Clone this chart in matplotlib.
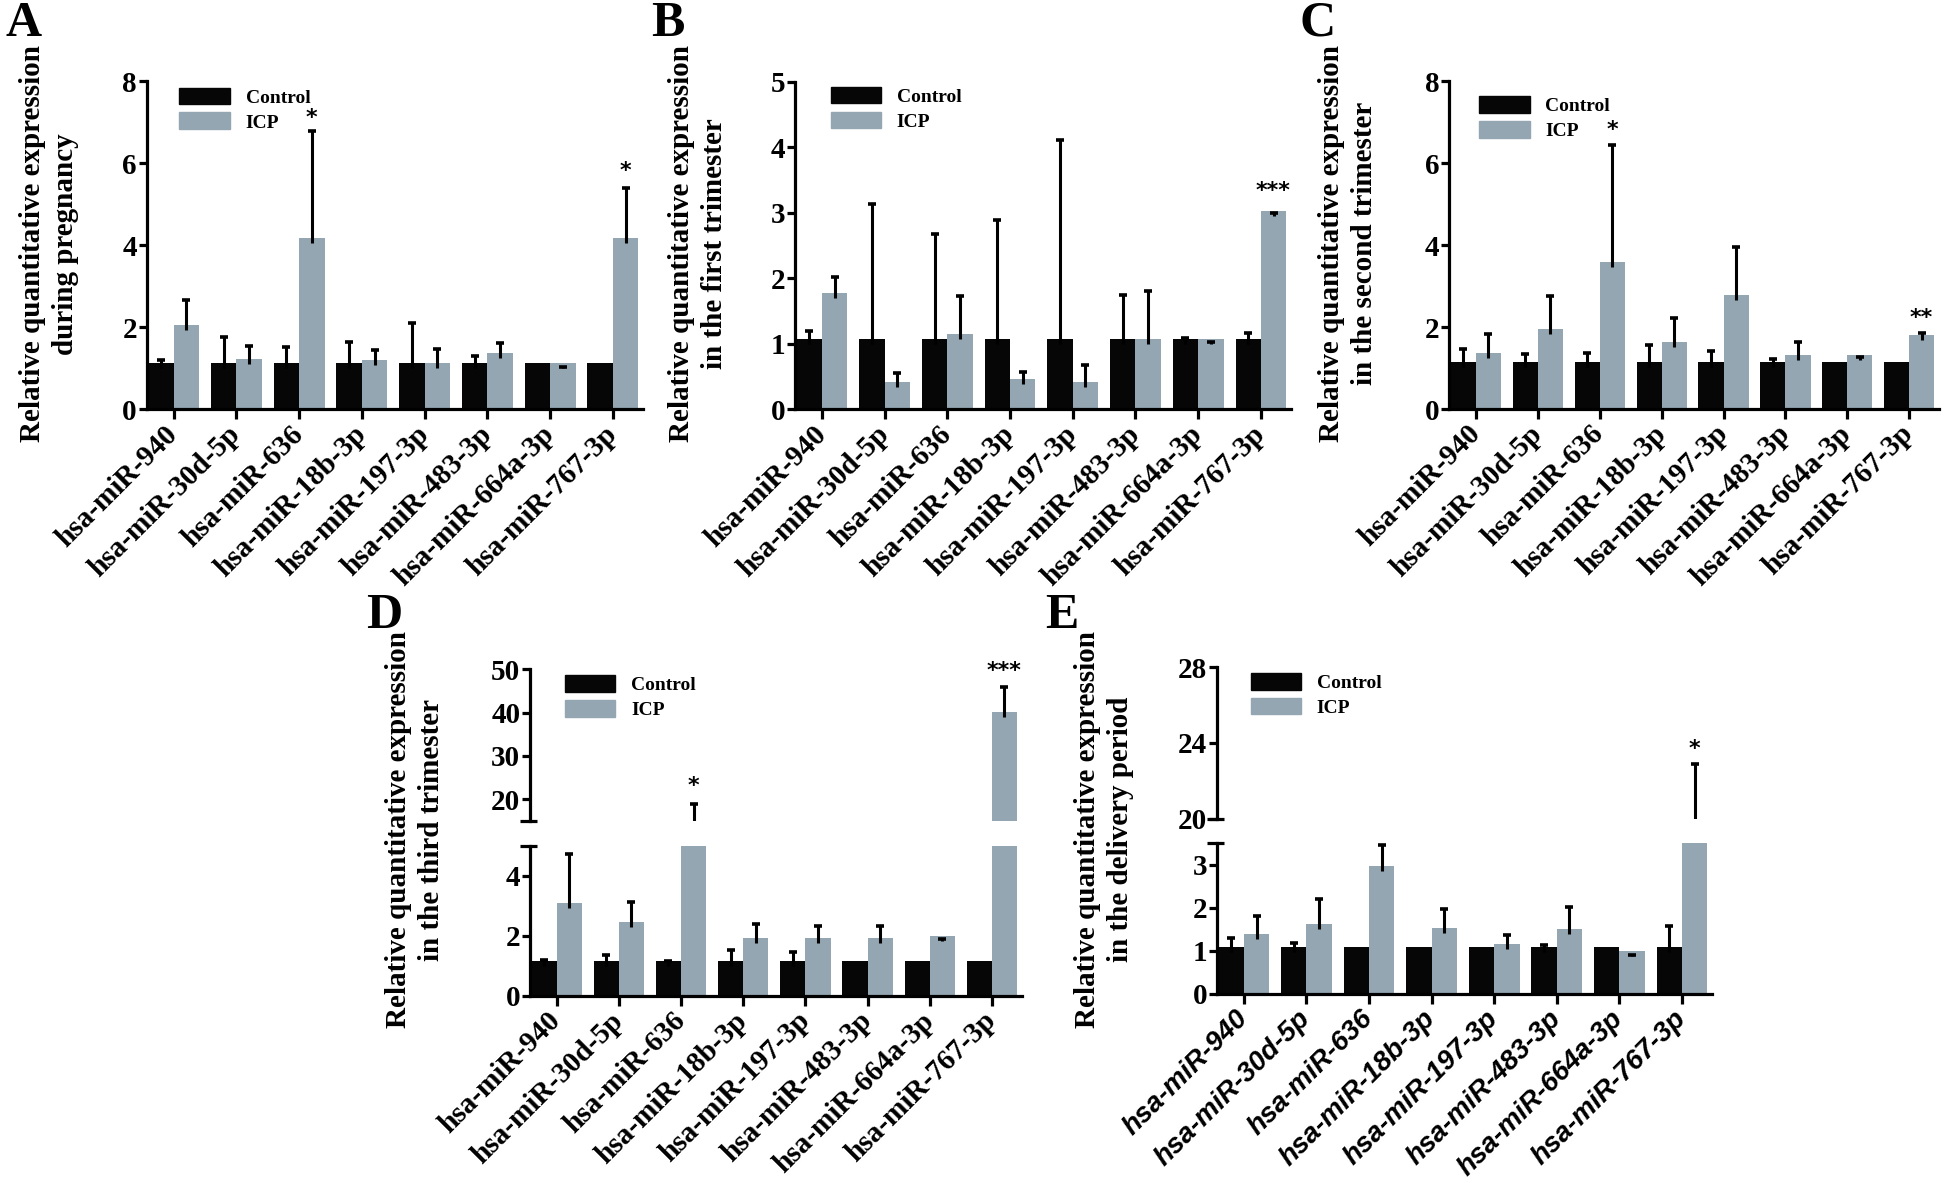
import numpy as np
import matplotlib
matplotlib.use('Agg')
import matplotlib.pyplot as plt

nan = np.nan

# microRNA names on the x axis
mirnas = ['hsa-miR-940', 'hsa-miR-30d-5p', 'hsa-miR-636', 'hsa-miR-18b-3p',
          'hsa-miR-197-3p', 'hsa-miR-483-3p', 'hsa-miR-664a-3p', 'hsa-miR-767-3p']

# A - during pregnancy
ctrl_a    = [1.12, 1.12, 1.12, 1.12, 1.12, 1.12, 1.12, 1.12]
ctrl_a_hi = [1.20, 1.75, 1.51, 1.64, 2.10, 1.29, nan, nan]
icp_a     = [2.05, 1.23, 4.18, 1.19, 1.12, 1.38, 1.12, 4.18]
icp_a_hi  = [2.66, 1.54, 6.79, 1.45, 1.46, 1.61, 1.03, 5.39]
stars_a   = {2: (7.1, '*'), 7: (5.8, '*')}

# B - first trimester
ctrl_b    = [1.08, 1.08, 1.08, 1.08, 1.08, 1.08, 1.08, 1.08]
ctrl_b_hi = [1.20, 3.13, 2.67, 2.89, 4.11, 1.74, 1.09, 1.17]
icp_b     = [1.78, 0.42, 1.15, 0.46, 0.41, 1.08, 1.08, 3.03]
icp_b_hi  = [2.02, 0.55, 1.73, 0.57, 0.67, 1.81, 1.03, 3.00]
stars_b   = {7: (3.33, '***')}

# C - second trimester
ctrl_c    = [1.14, 1.14, 1.14, 1.14, 1.14, 1.14, 1.14, 1.14]
ctrl_c_hi = [1.46, 1.34, 1.36, 1.56, 1.41, 1.22, nan, nan]
icp_c     = [1.36, 1.96, 3.58, 1.64, 2.78, 1.31, 1.31, 1.80]
icp_c_hi  = [1.83, 2.76, 6.45, 2.23, 3.96, 1.64, 1.28, 1.86]
stars_c   = {2: (6.8, '*'), 7: (2.22, '**')}

# D - third trimester (broken axis)
ctrl_d    = [1.16, 1.16, 1.16, 1.16, 1.16, 1.16, 1.16, 1.16]
ctrl_d_hi = [1.21, 1.37, 1.18, 1.54, 1.47, nan, nan, nan]
icp_d     = [3.11, 2.46, 9.0, 1.95, 1.93, 1.95, 2.01, 40.2]
icp_d_hi  = [4.75, 3.15, 18.9, 2.41, 2.35, 2.35, 1.89, 46.0]
stars_d   = {2: (23.1, '*'), 7: (49.7, '***')}

# E - delivery period (broken axis)
ctrl_e    = [1.10, 1.10, 1.10, 1.10, 1.10, 1.10, 1.10, 1.10]
ctrl_e_hi = [1.30, 1.18, nan, nan, nan, 1.13, nan, 1.58]
icp_e     = [1.40, 1.62, 2.97, 1.54, 1.16, 1.51, 1.00, 11.0]
icp_e_hi  = [1.80, 2.20, 3.45, 1.98, 1.37, 2.02, 0.91, 22.9]
stars_e   = {7: (23.7, '*')}

BLACK = '#060606'
GREY = '#93a6b1'
SERIF = 'Liberation Serif'
W, H = 1944, 1183

fig = plt.figure(figsize=(19.44, 11.83), dpi=100)


def rect(l, r, t, b):
    return [l / W, 1 - b / H, (r - l) / W, (b - t) / H]


def bars(ax, ctrl, ctrl_hi, icp, icp_hi, px_h):
    x = np.arange(len(mirnas))
    ylo, yhi = ax.get_ylim()
    delta = 5.0 * (yhi - ylo) / px_h
    w = 0.405
    ax.bar(x - w / 2, ctrl, w, color=BLACK, zorder=2)
    ax.bar(x + w / 2, icp, w, color=GREY, zorder=2)
    for xs, vals, his in [(x - w / 2, ctrl, ctrl_hi), (x + w / 2, icp, icp_hi)]:
        for xi, v, h in zip(xs, vals, his):
            if np.isnan(h):
                continue
            lo = min(v - delta, h)
            ax.vlines(xi, lo, h, color='black', lw=2.2, zorder=3)
            ax.plot([xi], [h], marker='_', ms=6, mew=2.6, color='black', zorder=3)


def style(ax, bottom=True):
    for s in ['top', 'right']:
        ax.spines[s].set_visible(False)
    ax.spines['left'].set_linewidth(2.3)
    ax.spines['bottom'].set_linewidth(2.3)
    ax.set_xlim(-0.43, 7.48)
    ax.tick_params(axis='y', direction='out', length=6, width=2.3, pad=1,
                   labelsize=21)
    for lab in ax.get_yticklabels():
        lab.set_fontfamily(SERIF)
        lab.set_fontweight('bold')
    if bottom:
        ax.set_xticks(np.arange(len(mirnas)))
        ax.tick_params(axis='x', direction='out', length=7, width=2.3, pad=8)
    else:
        ax.spines['bottom'].set_visible(False)
        ax.set_xticks([])


def xlabels(ax, italic_sans=False):
    if italic_sans:
        ax.set_xticklabels(mirnas, rotation=45, ha='right', va='center',
                           rotation_mode='anchor', fontsize=20,
                           fontfamily='Liberation Sans', fontweight='bold',
                           fontstyle='italic')
    else:
        ax.set_xticklabels(mirnas, rotation=45, ha='right', va='center',
                           rotation_mode='anchor', fontsize=21,
                           fontfamily=SERIF, fontweight='bold')


def legend(ax, x, y):
    from matplotlib.patches import Patch
    handles = [Patch(color=BLACK, label='Control'), Patch(color=GREY, label='ICP')]
    ax.legend(handles=handles, loc='upper left', bbox_to_anchor=(x, y),
              frameon=False, borderpad=0, borderaxespad=0, handlelength=2.6,
              handleheight=0.95, labelspacing=0.3, handletextpad=0.8,
              prop={'family': SERIF, 'weight': 'bold', 'size': 14})


def add_stars(ax, stars):
    for i, (y, s) in stars.items():
        ax.text(i + 0.2, y, s, ha='center', va='center', fontsize=16,
                fontweight='bold', color='black', clip_on=False, zorder=4)


def cap(ax, y_axes, wpx, left=10, right=7):
    ax.plot([-left / wpx, right / wpx], [y_axes, y_axes], transform=ax.transAxes,
            color='black', lw=2.3, clip_on=False, solid_capstyle='butt')


# simple panels
simple = [
    (rect(146.7, 643, 81, 409.3), (0, 8), [0, 2, 4, 6, 8], ctrl_a, ctrl_a_hi, icp_a, icp_a_hi,
     stars_a, (0.066, 0.98)),
    (rect(795, 1291, 81.7, 409.3), (0, 5), [0, 1, 2, 3, 4, 5], ctrl_b, ctrl_b_hi, icp_b, icp_b_hi,
     stars_b, (0.072, 0.985)),
    (rect(1449.3, 1939, 81, 409), (0, 8), [0, 2, 4, 6, 8], ctrl_c, ctrl_c_hi, icp_c, icp_c_hi,
     stars_c, (0.061, 0.954)),
]
for r, ylim, yt, c, ch, ic, ih, st, lg in simple:
    ax = fig.add_axes(r)
    ax.set_ylim(*ylim)
    ax.set_yticks(yt)
    style(ax)
    bars(ax, c, ch, ic, ih, r[3] * H)
    xlabels(ax)
    legend(ax, *lg)
    add_stars(ax, st)

# broken panels
broken = [
    (530, 1021.7, (669.3, 820.7), (846, 996), (15, 50), [20, 30, 40, 50], (0, 5), [0, 2, 4],
     ctrl_d, ctrl_d_hi, icp_d, icp_d_hi, stars_d, (0.071, 0.962), False),
    (1217, 1712, (667, 818.7), (843, 994), (20, 28), [20, 24, 28], (0, 3.5), [0, 1, 2, 3],
     ctrl_e, ctrl_e_hi, icp_e, icp_e_hi, stars_e, (0.068, 0.962), True),
]
for (l, rgt, up, low, ylu, ytu, yll, ytl, c, ch, ic, ih, st, lg, it) in broken:
    wpx = rgt - l
    axu = fig.add_axes(rect(l, rgt, up[0], up[1]))
    axu.set_ylim(*ylu)
    axu.set_yticks(ytu)
    style(axu, bottom=False)
    bars(axu, c, ch, ic, ih, up[1] - up[0])
    cap(axu, 0, wpx)
    legend(axu, *lg)
    add_stars(axu, st)

    axl = fig.add_axes(rect(l, rgt, low[0], low[1]))
    axl.set_ylim(*yll)
    axl.set_yticks(ytl)
    style(axl)
    bars(axl, c, ch, ic, ih, low[1] - low[0])
    cap(axl, 1, wpx)
    xlabels(axl, italic_sans=it)

# y axis titles
ylabels = [
    (49, 244, 'Relative quantitative expression\nduring pregnancy'),
    (698, 244, 'Relative quantitative expression\nin the first trimester'),
    (1348, 243, 'Relative quantitative expression\nin the second trimester'),
    (415, 830, 'Relative quantitative expression\nin the third trimester'),
    (1104, 829, 'Relative quantitative expression\nin the delivery period'),
]
for x, y, t in ylabels:
    fig.text(x / W, 1 - y / H, t, rotation=90, ha='center', va='center',
             multialignment='center', linespacing=1.25, fontsize=21,
             fontfamily=SERIF, fontweight='bold')

# panel letters
letters = [('A', 24, 24), ('B', 668, 24), ('C', 1318, 24), ('D', 384, 616), ('E', 1062, 616)]
for t, x, y in letters:
    fig.text(x / W, 1 - y / H, t, ha='center', va='center', fontsize=36,
             fontfamily=SERIF, fontweight='bold')

fig.savefig('out.png', dpi=100)
